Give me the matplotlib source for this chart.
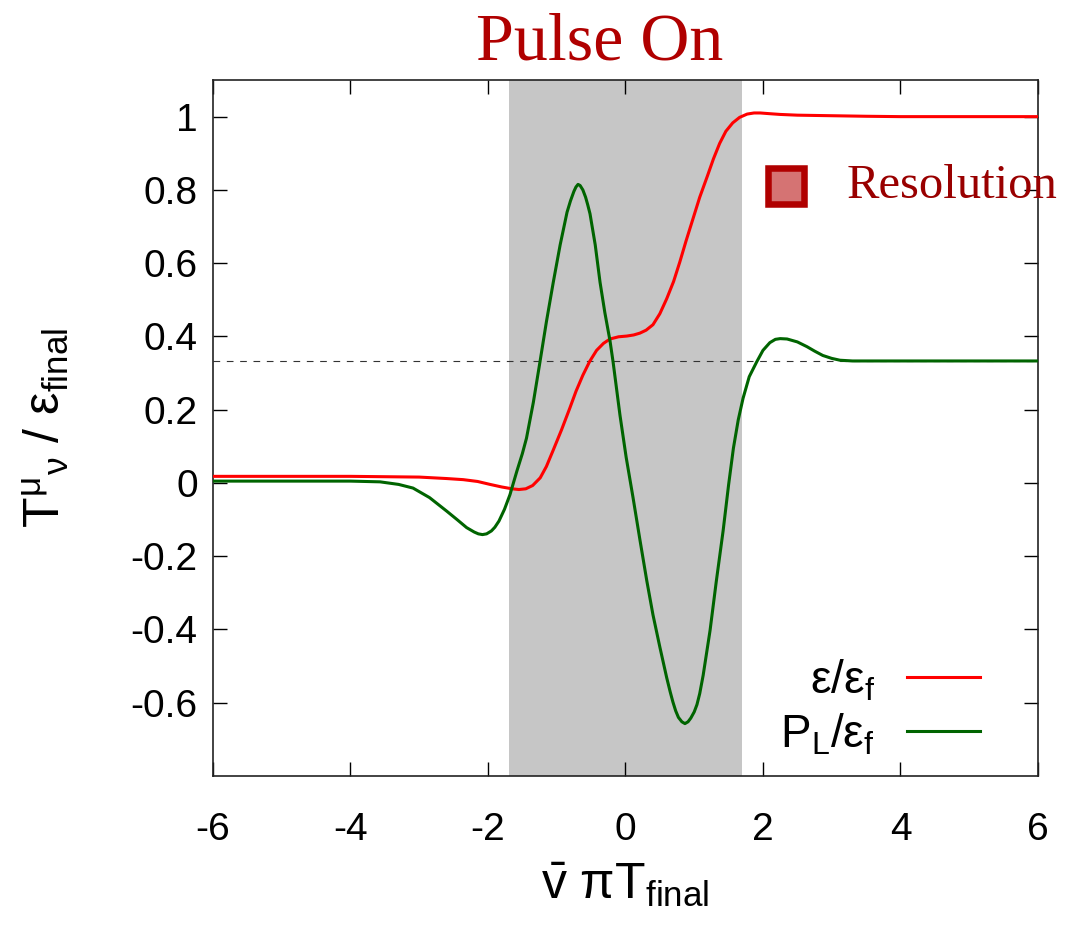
import matplotlib

matplotlib.use("Agg")
import matplotlib.pyplot as plt
from matplotlib.ticker import FormatStrFormatter

# energy density epsilon / epsilon_final
eps_x = [-6.0, -5.0, -4.0, -3.0, -2.6, -2.36, -2.15, -1.97, -1.8, -1.65, -1.55,
         -1.45, -1.35, -1.24, -1.15, -1.05, -0.93, -0.81, -0.72, -0.62, -0.52,
         -0.42, -0.32, -0.225, -0.1, 0.02, 0.12, 0.21, 0.3, 0.4, 0.5, 0.6, 0.7,
         0.79, 0.88, 0.98, 1.08, 1.19, 1.28, 1.37, 1.46, 1.56, 1.66, 1.77, 1.87,
         1.96, 2.1, 2.25, 2.5, 2.83, 3.5, 4.0, 5.0, 6.0]
eps_y = [0.018, 0.018, 0.018, 0.016, 0.012, 0.009, 0.004, -0.004, -0.011, -0.016,
         -0.018, -0.016, -0.007, 0.014, 0.045, 0.09, 0.145, 0.204, 0.25, 0.294,
         0.332, 0.362, 0.381, 0.393, 0.399, 0.401, 0.404, 0.409, 0.417, 0.432,
         0.462, 0.503, 0.55, 0.603, 0.66, 0.72, 0.78, 0.837, 0.885, 0.927, 0.96,
         0.983, 0.998, 1.007, 1.01, 1.01, 1.008, 1.006, 1.004, 1.003, 1.001, 1.0,
         1.0, 1.0]

# longitudinal pressure P_L / epsilon_final
pl_x = [-6.0, -5.0, -4.0, -3.57, -3.3, -3.09, -2.85, -2.6, -2.45, -2.31, -2.2,
        -2.14, -2.08, -2.02, -1.95, -1.9, -1.84, -1.76, -1.68, -1.58, -1.5,
        -1.44, -1.34, -1.244, -1.15, -1.05, -0.95, -0.85, -0.8, -0.75, -0.72,
        -0.69, -0.66, -0.62, -0.58, -0.55, -0.516, -0.44, -0.37, -0.3, -0.225,
        -0.18, -0.08, 0.01, 0.11, 0.21, 0.31, 0.4, 0.5, 0.55, 0.6, 0.65, 0.69,
        0.73, 0.77, 0.82, 0.865, 0.91, 0.95, 1.0, 1.04, 1.08, 1.13, 1.23, 1.32,
        1.42, 1.5, 1.57, 1.64, 1.71, 1.8, 1.91, 2.0, 2.1, 2.18, 2.25, 2.35, 2.5,
        2.64, 2.75, 2.87, 3.0, 3.12, 3.3, 3.5, 4.0, 5.0, 6.0]
pl_y = [0.005, 0.005, 0.005, 0.003, -0.004, -0.014, -0.04, -0.077, -0.1, -0.122,
        -0.134, -0.139, -0.141, -0.139, -0.131, -0.121, -0.104, -0.072, -0.032,
        0.032, 0.08, 0.122, 0.22, 0.33, 0.44, 0.548, 0.65, 0.739, 0.77, 0.796,
        0.808, 0.815, 0.812, 0.8, 0.78, 0.76, 0.735, 0.65, 0.548, 0.465, 0.388,
        0.33, 0.185, 0.07, -0.04, -0.155, -0.267, -0.36, -0.448, -0.49, -0.532,
        -0.57, -0.598, -0.622, -0.64, -0.652, -0.657, -0.652, -0.642, -0.625,
        -0.605, -0.575, -0.525, -0.403, -0.27, -0.131, -0.005, 0.095, 0.172,
        0.231, 0.29, 0.331, 0.362, 0.383, 0.392, 0.394, 0.393, 0.385, 0.372,
        0.36, 0.348, 0.34, 0.335, 0.333, 0.333, 0.333, 0.333, 0.333]

pulse_on = (-1.70, 1.69)
free_streaming = 1.0 / 3.0
x_ticks = [-6, -4, -2, 0, 2, 4, 6]
y_ticks = [-0.6, -0.4, -0.2, 0, 0.2, 0.4, 0.6, 0.8, 1]
resolution_xy = (2.34, 0.811)
resolution_text_x = 3.22

plt.rcParams["font.family"] = "Liberation Sans"
plt.rcParams["mathtext.fontset"] = "custom"
plt.rcParams["mathtext.rm"] = "Liberation Sans"
plt.rcParams["mathtext.it"] = "Liberation Sans:italic"
plt.rcParams["axes.unicode_minus"] = False

fig = plt.figure(figsize=(10.68, 9.39), dpi=100)
ax = fig.add_axes([0.1994, 0.1736, 0.7725, 0.7412])

ax.axvspan(*pulse_on, color="#c6c6c6", lw=0, zorder=0)
ax.axhline(free_streaming, color="#333333", lw=0.8, ls=(0, (6, 6)), zorder=1)
ax.plot(eps_x, eps_y, color="#ff0000", lw=2.2, label=r"$\mathregular{ε/ε_f}$", zorder=3)
ax.plot(pl_x, pl_y, color="#006400", lw=2.2, label=r"$\mathregular{P_L/ε_f}$", zorder=3)

ax.plot(*resolution_xy, marker="s", ms=26, mfc="#d57373", mec="#b00000", mew=4.7,
        ls="none", clip_on=False, zorder=4)
ax.text(resolution_text_x, resolution_xy[1], "Resolution", family="Liberation Serif",
        fontsize=35, color="#990000", va="center", ha="left", clip_on=False)

ax.set_xlim(-6, 6)
ax.set_ylim(-0.8, 1.1)
ax.set_xticks(x_ticks)
ax.set_yticks(y_ticks)
ax.yaxis.set_major_formatter(FormatStrFormatter("%g"))
ax.tick_params(direction="in", length=10, width=1, labelsize=28, top=True, right=True)
ax.tick_params(axis="x", pad=26)
ax.tick_params(axis="y", pad=11)
for s in ax.spines.values():
    s.set_linewidth(1.2)
    s.set_color("#222222")

ax.set_xlabel(r"$\mathregular{\bar{v}\ πT_{final}}$", fontsize=36, labelpad=9)
ax.set_ylabel(r"$\mathregular{T^{μ}{}_{ν}\ /\ ε_{final}}$", fontsize=36, labelpad=43)

ax.legend(loc="lower right", bbox_to_anchor=(0.93, 0.027), frameon=False, fontsize=33,
          markerfirst=False, handlelength=1.6, handletextpad=0.7, labelspacing=0.18,
          borderpad=0, borderaxespad=0)

fig.text(0.561, 0.937, "Pulse On", family="Liberation Serif", fontsize=49,
         color="#b00000", ha="center", va="baseline")

fig.savefig("out.png", dpi=100)
